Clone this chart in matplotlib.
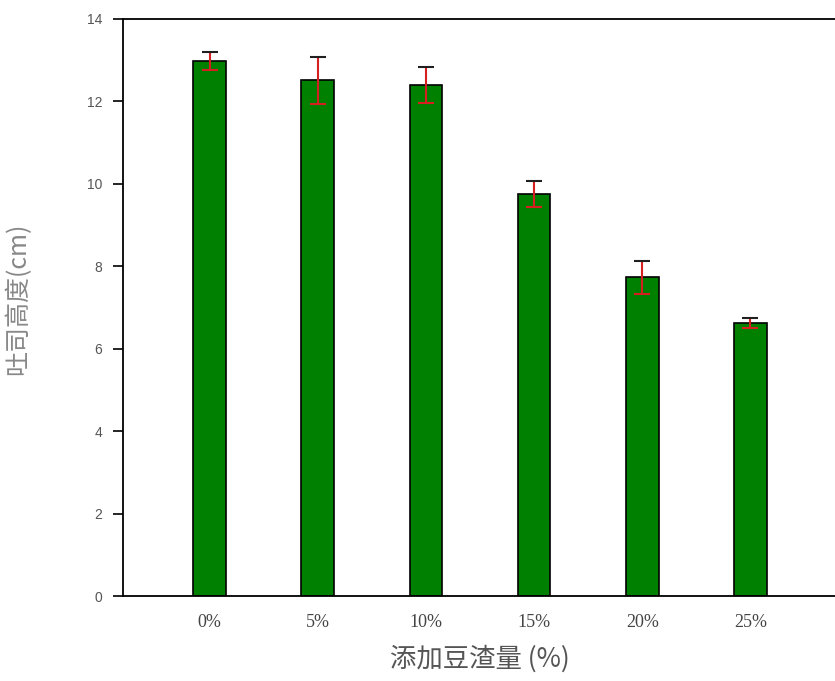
import matplotlib
matplotlib.use("Agg")
import matplotlib.pyplot as plt
import numpy as np

categorias = ['0%', '5%', '10%', '15%', '20%', '25%']
altura = [12.98, 12.51, 12.40, 9.75, 7.73, 6.62]
erro = [0.22, 0.57, 0.44, 0.32, 0.41, 0.12]

plt.rcParams['font.family'] = ['Noto Sans CJK SC', 'DejaVu Sans']

fig = plt.figure(figsize=(8.35, 6.81), dpi=100)
ax = fig.add_axes([0.1473, 0.1248, 0.8551, 0.8473])

x = np.arange(len(categorias))
ax.bar(x, altura, width=0.3, color='#008000', edgecolor='black', linewidth=1.2, zorder=2)
_, caps, barras = ax.errorbar(x, altura, yerr=erro, fmt='none', ecolor='#d42020',
                              elinewidth=1.5, capsize=6, capthick=1.5, zorder=3)
# tampa superior escura, inferior vermelha
caps[1].set_markeredgecolor('#202020')

ax.set_xlim(-0.8, 5.8)
ax.set_ylim(0, 14)
ax.set_yticks(np.arange(0, 15, 2))
ax.set_xticks(x)
ax.set_xticklabels(categorias, family='Liberation Serif', fontsize=13, color='#444444')
ax.tick_params(axis='x', length=0, pad=13)
ax.tick_params(axis='y', direction='out', length=7, width=1.2, pad=8,
               labelsize=10, labelcolor='#555555')
for lab in ax.get_yticklabels():
    lab.set_family(['Liberation Sans Narrow', 'Liberation Sans'])

for s in ax.spines.values():
    s.set_linewidth(1.3)
ax.spines['right'].set_visible(False)

ax.set_ylabel('吐司高度(cm)', fontsize=18, color='#888888', labelpad=34)
ax.yaxis.set_label_coords(-0.128, 0.515)
ax.set_xlabel('添加豆渣量 (%)', fontsize=19, color='#555555', labelpad=10)

fig.savefig('out.png', dpi=100)
